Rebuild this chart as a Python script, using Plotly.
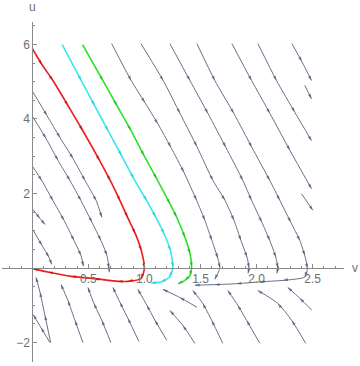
import plotly.graph_objects as go

# ---- data (v, u) ----
red_v = [0.0, 0.086, 0.184, 0.318, 0.45, 0.60, 0.695, 0.782, 0.85, 0.918, 0.972, 1.0, 0.971, 0.853, 0.764, 0.556, 0.348, 0.14, 0.006]
red_u = [5.89, 5.46, 5.03, 4.36, 3.69, 2.89, 2.35, 1.81, 1.36, 0.93, 0.47, 0.0, -0.28, -0.357, -0.357, -0.284, -0.223, -0.107, -0.016]
cyan_v = [0.267, 0.437, 0.556, 0.675, 0.795, 0.905, 1.02, 1.10, 1.175, 1.232, 1.254, 1.225, 1.150, 1.061]
cyan_u = [5.99, 5.03, 4.36, 3.69, 3.02, 2.40, 1.81, 1.37, 0.92, 0.47, 0.03, -0.24, -0.375, -0.40]
green_v = [0.449, 0.630, 0.755, 0.880, 0.996, 1.109, 1.227, 1.287, 1.361, 1.406, 1.421, 1.406, 1.361, 1.301]
green_u = [5.99, 5.03, 4.36, 3.69, 3.02, 2.40, 1.73, 1.37, 0.83, 0.39, 0.03, -0.20, -0.33, -0.42]

l1_v = [0.006, 0.131, 0.247, 0.363, 0.470, 0.570, 0.621]
l1_u = [4.72, 4.09, 3.50, 2.94, 2.35, 1.81, 1.36]
l2_v = [0.006, 0.122, 0.229, 0.336, 0.434, 0.532, 0.612, 0.666, 0.684, 0.688]
l2_u = [4.05, 3.48, 2.89, 2.35, 1.81, 1.23, 0.74, 0.34, -0.01, -0.115]
l3_v = [0.006, 0.084, 0.184, 0.283, 0.372, 0.434, 0.456]
l3_u = [2.71, 2.35, 1.81, 1.28, 0.74, 0.34, 0.05]
l4_v = [0.009, 0.086, 0.149, 0.173]
l4_u = [1.01, 0.61, 0.29, 0.10]
l5_v = [0.006, 0.069, 0.113]
l5_u = [1.57, 1.33, 1.17]

t1_v = [0.708, 0.882, 1.004, 1.120, 1.236, 1.352, 1.465, 1.539, 1.602, 1.655, 1.673, 1.628]
t1_u = [6.02, 5.03, 4.44, 3.87, 3.24, 2.57, 1.82, 1.28, 0.74, 0.26, 0.0, -0.30]
t2_v = [0.969, 1.168, 1.317, 1.468, 1.611, 1.718, 1.799, 1.861, 1.915, 1.933, 1.924]
t2_u = [6.02, 5.03, 4.15, 3.26, 2.35, 1.82, 1.28, 0.74, 0.29, 0.0, -0.14]
t3_v = [1.227, 1.406, 1.566, 1.726, 1.878, 1.955, 2.047, 2.118, 2.172, 2.190, 2.181]
t3_u = [6.02, 5.03, 4.15, 3.24, 2.35, 1.82, 1.23, 0.74, 0.29, 0.0, -0.14]
t4_v = [1.468, 1.628, 1.797, 1.958, 2.118, 2.207, 2.305, 2.386, 2.430, 2.453, 2.431, 2.237, 2.029, 1.822, 1.628, 1.450]
t4_u = [6.02, 5.03, 4.15, 3.24, 2.35, 1.82, 1.23, 0.74, 0.34, -0.01, -0.24, -0.33, -0.37, -0.42, -0.445, -0.46]
t5_v = [1.780, 1.956, 2.119, 2.297, 2.490]
t5_u = [6.02, 5.03, 4.15, 3.16, 2.13]
t6_v = [2.012, 2.178, 2.341, 2.490]
t6_u = [6.02, 5.03, 4.18, 3.42]
t7_v = [2.315, 2.404, 2.490]
t7_u = [6.02, 5.54, 5.03]
t8_v = [2.43, 2.49]
t8_u = [4.90, 4.54]
t9_v = [2.401, 2.502]
t9_u = [1.99, 1.55]

d1_v = [0.164, 0.113, 0.069, 0.033]
d1_u = [-2.0, -1.27, -0.65, -0.25]
d2_v = [0.158, 0.078, 0.009]
d2_u = [-2.0, -1.6, -1.25]
d3_v = [0.452, 0.381, 0.318, 0.256]
d3_u = [-2.0, -1.41, -0.87, -0.44]
d4_v = [0.701, 0.621, 0.550, 0.496]
d4_u = [-2.0, -1.41, -0.95, -0.52]
d5_v = [0.951, 0.853, 0.782, 0.719]
d5_u = [-1.97, -1.35, -0.92, -0.52]
d6_v = [1.200, 1.094, 1.022, 0.942]
d6_u = [-1.94, -1.40, -1.0, -0.57]
d7_v = [1.468, 1.316, 1.165]
d7_u = [-1.05, -0.79, -0.57]
d8_v = [1.450, 1.343, 1.228]
d8_u = [-2.02, -1.54, -1.14]
d9_v = [1.699, 1.601, 1.521, 1.432]
d9_u = [-2.02, -1.41, -0.95, -0.60]
d10_v = [2.029, 1.913, 1.833, 1.744]
d10_u = [-2.02, -1.41, -1.0, -0.60]
d11_v = [2.439, 2.315, 2.190, 2.012]
d11_u = [-2.02, -1.41, -0.95, -0.60]
d12_v = [2.493, 2.386, 2.279]
d12_u = [-1.13, -0.81, -0.52]

x_ticks = [0.5, 1.0, 1.5, 2.0, 2.5]
x_ticktext = ["0.5", "1.0", "1.5", "2.0", "2.5"]
y_ticks = [-2, 2, 4, 6]
y_ticktext = ["\u22122", "2", "4", "6"]

grey_lines = [(l1_v, l1_u), (l2_v, l2_u), (l3_v, l3_u), (l4_v, l4_u), (l5_v, l5_u),
              (t1_v, t1_u), (t2_v, t2_u), (t3_v, t3_u), (t4_v, t4_u), (t5_v, t5_u),
              (t6_v, t6_u), (t7_v, t7_u), (t8_v, t8_u), (t9_v, t9_u),
              (d1_v, d1_u), (d2_v, d2_u), (d3_v, d3_u), (d4_v, d4_u), (d5_v, d5_u),
              (d6_v, d6_u), (d7_v, d7_u), (d8_v, d8_u), (d9_v, d9_u), (d10_v, d10_u),
              (d11_v, d11_u), (d12_v, d12_u)]

XR = [-0.27, 2.78]
YR = [-2.52, 6.6]

fig = go.Figure()


def add_stream(v, u, lcol, acol, width, asize):
    sizes = [0] + [asize] * (len(v) - 1)
    fig.add_trace(go.Scatter(
        x=v, y=u, mode="lines+markers",
        line=dict(color=lcol, width=width, shape="spline", smoothing=0.6),
        marker=dict(symbol="arrow", size=sizes, angleref="previous", color=acol,
                    line=dict(width=0)),
        hoverinfo="skip", showlegend=False))


for v, u in grey_lines:
    add_stream(v, u, "#6a6f88", "#4d5270", 1.0, 5)

add_stream(red_v, red_u, "#ee1c1c", "#c01010", 1.6, 5)
add_stream(cyan_v, cyan_u, "#3ae6f0", "#20c8d8", 1.6, 5)
add_stream(green_v, green_u, "#2ee02e", "#18b818", 1.6, 5)

axis_col = "#8a8a8a"
lab_font = dict(family="Liberation Sans, Arial, sans-serif", size=12, color="#6e6e6e")

fig.update_xaxes(range=XR, showgrid=False, zeroline=False, showline=True,
                 linecolor=axis_col, linewidth=1, anchor="free",
                 position=(0 - YR[0]) / (YR[1] - YR[0]),
                 tickvals=x_ticks, ticktext=x_ticktext, ticks="inside",
                 ticklen=4, tickcolor=axis_col, tickwidth=1, tickfont=lab_font,
                 minor=dict(dtick=0.1, ticks="inside", ticklen=2, tickcolor=axis_col))
fig.update_yaxes(range=YR, showgrid=False, zeroline=False, showline=True,
                 linecolor=axis_col, linewidth=1, anchor="free",
                 position=(0 - XR[0]) / (XR[1] - XR[0]),
                 tickvals=y_ticks, ticktext=y_ticktext, ticks="inside",
                 ticklen=4, tickcolor=axis_col, tickwidth=1, tickfont=lab_font,
                 minor=dict(dtick=0.5, ticks="inside", ticklen=2, tickcolor=axis_col))

fig.add_annotation(x=0, xref="x", y=1.043, yref="paper", text="u", showarrow=False,
                   font=lab_font, xanchor="center", yanchor="middle")
fig.add_annotation(x=1.032, xref="paper", y=0, yref="y", text="v", showarrow=False,
                   font=lab_font, xanchor="center", yanchor="middle")

fig.update_layout(width=360, height=366, margin=dict(l=2, r=16, t=22, b=4),
                  paper_bgcolor="white", plot_bgcolor="white")

fig.write_html("out.html")
